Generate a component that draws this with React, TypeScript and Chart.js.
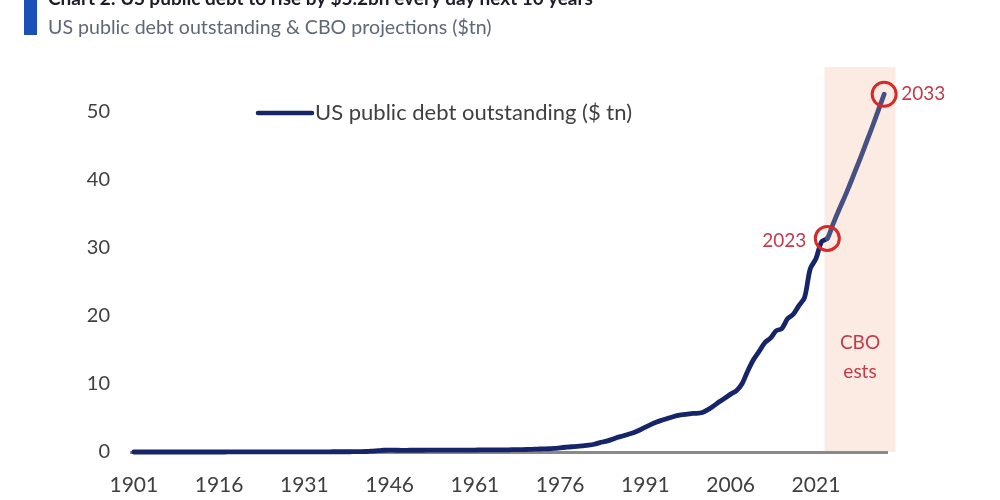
import React, { useEffect, useRef } from 'react';
import { Chart, registerables } from 'chart.js';

Chart.register(...registerables);

const TITLE = 'Chart 2: US public debt to rise by $5.2bn every day next 10 years';
const SUBTITLE = 'US public debt outstanding & CBO projections ($tn)';
const SERIES_LABEL = 'US public debt outstanding ($ tn)';
const SHADE_LABEL = ['CBO', 'ests'];

const FIRST_YEAR = 1901;
const LAST_YEAR = 2033;
const years: string[] = Array.from({ length: LAST_YEAR - FIRST_YEAR + 1 }, (_, i) => String(FIRST_YEAR + i));

// US public debt outstanding, $tn, 1901–2023
const debtHistory = [
  0.0012, 0.0012, 0.0012, 0.0012, 0.0012, 0.0011, 0.0011, 0.0012, 0.0012, 0.0011,
  0.0012, 0.0012, 0.0012, 0.0012, 0.0012, 0.0012,
  0.003, 0.0125, 0.0255, 0.0243, 0.024, 0.023, 0.0223, 0.0213, 0.0205, 0.0195, 0.0185, 0.0176, 0.0169, 0.0162,
  0.0168, 0.0195, 0.0225, 0.0271, 0.0287, 0.0338, 0.0364, 0.0372, 0.0402, 0.043,
  0.049, 0.0725, 0.137, 0.201, 0.259, 0.269, 0.258, 0.252, 0.253, 0.257,
  0.255, 0.259, 0.266, 0.271, 0.274, 0.273, 0.271, 0.276, 0.285, 0.286,
  0.289, 0.298, 0.306, 0.312, 0.317, 0.32, 0.326, 0.348, 0.354, 0.371,
  0.398, 0.427, 0.458, 0.475, 0.533, 0.62, 0.699, 0.772, 0.827, 0.908,
  0.998, 1.142, 1.377, 1.572, 1.823, 2.125, 2.35, 2.602, 2.857, 3.233,
  3.665, 4.065, 4.411, 4.693, 4.974, 5.225, 5.413, 5.526, 5.656, 5.674,
  5.807, 6.228, 6.783, 7.379, 7.933, 8.507, 9.008, 10.025, 11.91, 13.562,
  14.79, 16.066, 16.739, 17.824, 18.151, 19.573, 20.245, 21.516, 22.719, 26.946,
  28.429, 30.929, 31.4,
];

// CBO projections, $tn, 2024–2033
const cboProjection = [33.5, 35.5, 37.4, 39.4, 41.5, 43.6, 45.8, 48.0, 50.3, 52.6];

const debt = [...debtHistory, ...cboProjection];

const xTickLabels = ['1901', '1916', '1931', '1946', '1961', '1976', '1991', '2006', '2021'];
const yTickValues = [0, 10, 20, 30, 40, 50];
const highlightYears = ['2023', '2033'];
const projectionStartYear = '2023';

const FONT = 'Lato, "Open Sans", sans-serif';
const NAVY = '#16246a';
const PROJ = '#465082';
const RED = '#d42a2c';
const RED_TEXT = '#c23b4b';
const TEXT = '#404040';

const decorations = {
  id: 'decorations',
  beforeDraw(chart: any) {
    const { ctx, chartArea, scales } = chart;
    const x = scales.x;
    const i0 = years.indexOf(projectionStartYear);
    const i1 = years.length - 1;
    const p0 = x.getPixelForValue(i0);
    const p1 = x.getPixelForValue(i1);
    const step = (p1 - p0) / (i1 - i0);
    const left = p0 - step / 2;
    const right = p1 + step * 2;
    ctx.save();
    ctx.fillStyle = '#fcebe2';
    ctx.fillRect(left, chartArea.top, right - left, chartArea.bottom - chartArea.top);
    ctx.fillStyle = RED_TEXT;
    ctx.font = `19px ${FONT}`;
    ctx.textAlign = 'center';
    ctx.textBaseline = 'middle';
    const cx = (left + right) / 2;
    ctx.fillText(SHADE_LABEL[0], cx, chartArea.top + 276);
    ctx.fillText(SHADE_LABEL[1], cx, chartArea.top + 305);
    ctx.restore();
  },
  afterDraw(chart: any) {
    const { ctx, chartArea } = chart;
    const meta = chart.getDatasetMeta(0);
    ctx.save();
    ctx.font = `19px ${FONT}`;
    ctx.fillStyle = RED_TEXT;
    ctx.textBaseline = 'middle';
    const a = meta.data[years.indexOf(highlightYears[0])];
    const b = meta.data[years.indexOf(highlightYears[1])];
    ctx.textAlign = 'right';
    ctx.fillText(highlightYears[0], a.x - 21, a.y + 2);
    ctx.textAlign = 'left';
    ctx.fillText(highlightYears[1], b.x + 17, b.y);
    // legend
    const ly = chartArea.top + 46;
    const lx = chartArea.left + 127;
    ctx.strokeStyle = NAVY;
    ctx.lineWidth = 4.5;
    ctx.lineCap = 'round';
    ctx.beginPath();
    ctx.moveTo(lx, ly);
    ctx.lineTo(lx + 54, ly);
    ctx.stroke();
    ctx.fillStyle = TEXT;
    ctx.font = `22px ${FONT}`;
    ctx.fillText(SERIES_LABEL, lx + 57, ly);
    ctx.restore();
  },
};

export default function App() {
  const ref = useRef<HTMLCanvasElement | null>(null);
  useEffect(() => {
    if (!ref.current) return;
    const projIdx = years.indexOf(projectionStartYear);
    const highlightIdx = highlightYears.map((y) => years.indexOf(y));
    const chart = new Chart(ref.current, {
      type: 'line',
      data: {
        labels: years,
        datasets: [
          {
            label: SERIES_LABEL,
            data: debt,
            borderColor: NAVY,
            borderWidth: 4.8,
            borderCapStyle: 'round',
            borderJoinStyle: 'round',
            tension: 0.3,
            fill: false,
            segment: {
              borderColor: (c: any) => (c.p0DataIndex >= projIdx ? PROJ : undefined),
            },
            pointRadius: (c: any) => (highlightIdx.includes(c.dataIndex) ? 12 : 0),
            pointBorderColor: RED,
            pointBorderWidth: 3,
            pointBackgroundColor: 'rgba(0,0,0,0)',
            clip: false as any,
          },
        ],
      },
      options: {
        animation: false,
        responsive: false,
        devicePixelRatio: 1,
        layout: { padding: { left: 0, right: 113, top: 67, bottom: 0 } },
        plugins: { legend: { display: false }, tooltip: { enabled: false }, title: { display: false } },
        scales: {
          x: {
            type: 'category',
            offset: true,
            grid: { display: false, drawTicks: false },
            border: { display: true, color: '#8a8a8a', width: 3 },
            afterFit: (s: any) => { s.height = 48; },
            ticks: {
              autoSkip: false,
              maxRotation: 0,
              minRotation: 0,
              padding: 21,
              color: TEXT,
              font: { family: FONT, size: 21 },
              callback: (_v: any, i: number) => (xTickLabels.includes(years[i]) ? years[i] : null),
            },
          },
          y: {
            min: 0,
            max: 56.6,
            grid: { display: false, drawTicks: false },
            border: { display: false },
            afterFit: (s: any) => { s.width = 131; },
            afterBuildTicks: (s: any) => { s.ticks = yTickValues.map((v) => ({ value: v })); },
            ticks: {
              padding: 21,
              color: TEXT,
              font: { family: FONT, size: 20 },
              callback: (v: any) => String(v),
            },
          },
        },
      },
      plugins: [decorations],
    });
    return () => chart.destroy();
  }, []);

  return (
    <div style={{ position: 'fixed', left: 0, top: 0, width: 1000, height: 500, background: '#fff', overflow: 'hidden' }}>
      <canvas ref={ref} width={1000} height={500} style={{ position: 'absolute', left: 0, top: 0 }} />
      <div style={{ position: 'absolute', left: 24, top: 0, width: 13, height: 35, background: '#1c4fb8' }} />
      <div style={{ position: 'absolute', left: 48, top: -12, fontFamily: FONT, fontWeight: 700, fontSize: 19, lineHeight: '20px', color: '#1d1d2b', whiteSpace: 'nowrap' }}>{TITLE}</div>
      <div style={{ position: 'absolute', left: 48, top: 15, fontFamily: FONT, fontSize: 19.6, lineHeight: '24px', color: '#5e6875', whiteSpace: 'nowrap' }}>{SUBTITLE}</div>
    </div>
  );
}
